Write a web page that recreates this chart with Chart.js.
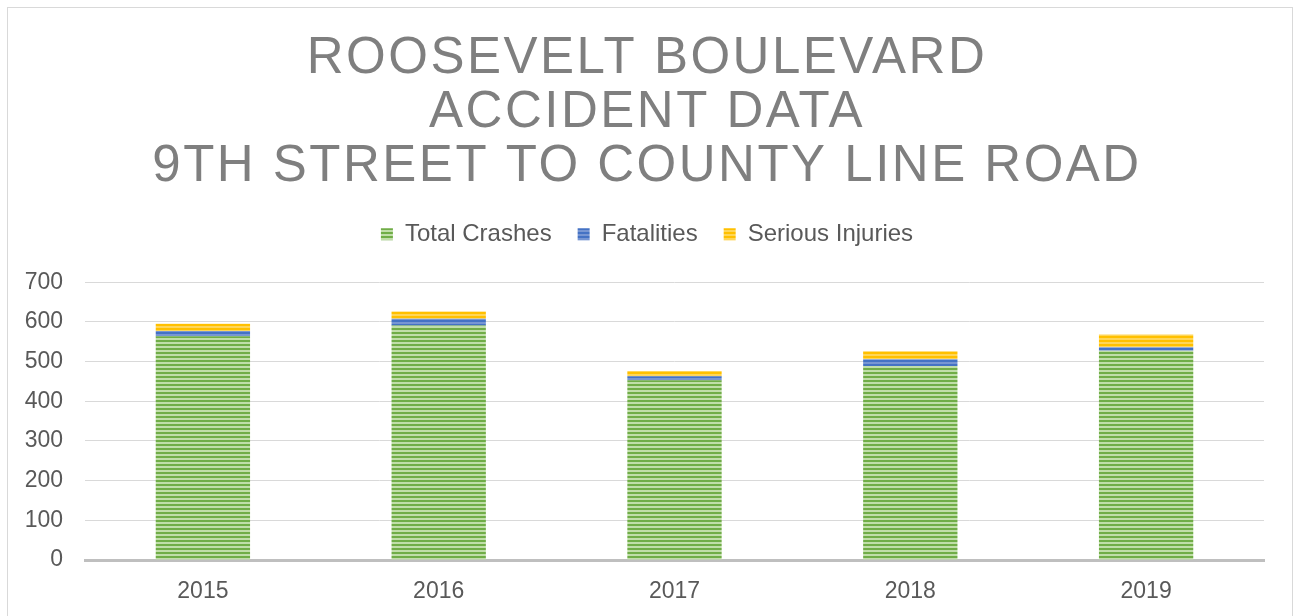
<!DOCTYPE html>
<html>
<head>
<meta charset="utf-8">
<script src="https://cdn.jsdelivr.net/npm/chart.js@4"></script>
<style>
  html, body { margin: 0; padding: 0; background: #fff; }
  #wrap { position: relative; width: 1294px; height: 616px; overflow: hidden; }
  #frame { position: absolute; left: 7px; top: 7px; width: 1286px; height: 700px; border: 1px solid #d9d9d9; box-sizing: border-box; }
  #chart { position: absolute; left: 0; top: 0; }
</style>
</head>
<body>
<div id="wrap">
  <div id="frame"></div>
  <canvas id="chart" width="1294" height="616"></canvas>
</div>
<script>
const years = ["2015", "2016", "2017", "2018", "2019"];
const totalCrashes = [564, 591, 453, 489, 527];
const fatalities = [13, 17, 10, 17, 9];
const seriousInjuries = [18, 18, 13, 20, 32];
const titleLines = ["ROOSEVELT BOULEVARD", "ACCIDENT DATA", "9TH STREET TO COUNTY LINE ROAD"];

const canvas = document.getElementById("chart");
const ctx = canvas.getContext("2d");

// horizontal striped fill like the Excel pattern
function stripes(dark, light) {
  const c = document.createElement("canvas");
  c.width = 4;
  c.height = 4;
  const g = c.getContext("2d");
  g.fillStyle = light;
  g.fillRect(0, 0, 4, 4);
  g.fillStyle = dark;
  g.fillRect(0, 0, 4, 2);
  return ctx.createPattern(c, "repeat");
}

const textColor = "#595959";
const family = "'Liberation Sans', Arial, sans-serif";
const tickFont = { family: family, size: 23 };

// canvas letter spacing for the big title only
const titleSpacing = {
  id: "titleSpacing",
  beforeDraw(chart) {
    const tb = chart.titleBlock;
    if (tb && !tb._spaced) {
      const orig = tb.draw;
      tb.draw = function (area) {
        this.ctx.save();
        this.ctx.letterSpacing = "2.5px";
        orig.call(this, area);
        this.ctx.restore();
      };
      tb._spaced = true;
    }
  }
};

new Chart(ctx, {
  type: "bar",
  data: {
    labels: years,
    datasets: [
      { label: "Total Crashes", data: totalCrashes, backgroundColor: stripes("#70ad47", "#c0dea9") },
      { label: "Fatalities", data: fatalities, backgroundColor: stripes("#4472c4", "#7796d3") },
      { label: "Serious Injuries", data: seriousInjuries, backgroundColor: stripes("#ffc000", "#ffd658") }
    ]
  },
  options: {
    responsive: false,
    animation: false,
    barPercentage: 0.4,
    categoryPercentage: 1,
    layout: { padding: 0 },
    plugins: {
      title: {
        display: true,
        text: titleLines,
        color: "#7f7f7f",
        font: { family: family, size: 51, weight: "normal", lineHeight: 1.06 },
        padding: { top: 32, bottom: 2 }
      },
      // empty spacer between legend and plot
      subtitle: {
        display: true,
        text: " ",
        weight: 500,
        color: "rgba(0,0,0,0)",
        font: { size: 10, lineHeight: 1 },
        padding: { top: 0, bottom: 16 }
      },
      legend: {
        position: "top",
        labels: {
          boxWidth: 12,
          boxHeight: 12,
          padding: 26,
          color: textColor,
          font: { family: family, size: 24 }
        }
      },
      tooltip: { enabled: false }
    },
    scales: {
      x: {
        stacked: true,
        grid: { display: false, drawTicks: false },
        border: { color: "#bfbfbf", width: 3 },
        ticks: { color: textColor, font: tickFont, padding: 18 },
        afterFit(scale) { scale.height = 56; }
      },
      y: {
        stacked: true,
        min: 0,
        max: 700,
        grid: { color: "#d9d9d9", lineWidth: 1, drawTicks: false },
        border: { display: false },
        ticks: { stepSize: 100, color: textColor, font: tickFont, padding: 22 },
        afterFit(scale) { scale.width = 85; }
      },
      yRight: {
        position: "right",
        display: true,
        grid: { display: false, drawTicks: false },
        border: { display: false },
        ticks: { display: false },
        afterFit(scale) { scale.width = 30; }
      }
    }
  },
  plugins: [titleSpacing]
});
</script>
</body>
</html>
